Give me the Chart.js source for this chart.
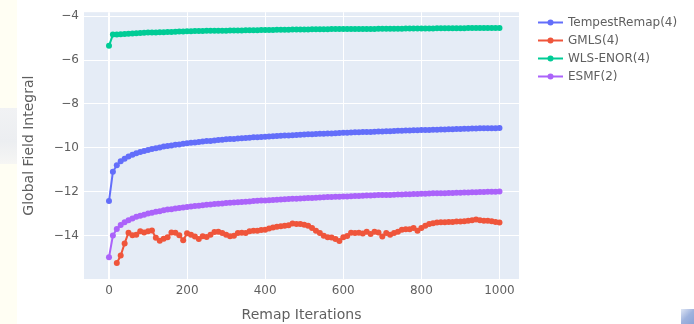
<!DOCTYPE html>
<html>
<head>
<meta charset="utf-8">
<script src="https://cdn.jsdelivr.net/npm/chart.js@4.4.0/dist/chart.umd.min.js"></script>
<style>
    html, body { margin: 0; padding: 0; background: #ffffff; overflow: hidden; }
    #wrap { position: relative; width: 694px; height: 324px; }
    #strip { position: absolute; left: 0; top: 0; width: 17px; height: 324px; background: #fffef3; }
    #blob { position: absolute; left: 0; top: 108px; width: 17px; height: 56px; background: linear-gradient(180deg, #f1f2f4 0%, #eceef1 60%, #f6f6f4 100%); }
    #corner { position: absolute; left: 681px; top: 309px; width: 13px; height: 15px; background: linear-gradient(135deg, #dfe6f4 0%, #9fb3de 50%, #8aa3d6 100%); }
    canvas { position: absolute; left: 0; top: 0; }
</style>
</head>
<body>
<div id="wrap">
    <div id="strip"></div>
    <div id="blob"></div>
    <div id="corner"></div>
    <canvas id="fieldChart" width="694" height="324"></canvas>
</div>
<script>
// Global field integral vs remap iterations

const iterations = [
    0, 10, 20, 30, 40, 50, 60, 70, 80, 90,
    100, 110, 120, 130, 140, 150, 160, 170, 180, 190,
    200, 210, 220, 230, 240, 250, 260, 270, 280, 290,
    300, 310, 320, 330, 340, 350, 360, 370, 380, 390,
    400, 410, 420, 430, 440, 450, 460, 470, 480, 490,
    500, 510, 520, 530, 540, 550, 560, 570, 580, 590,
    600, 610, 620, 630, 640, 650, 660, 670, 680, 690,
    700, 710, 720, 730, 740, 750, 760, 770, 780, 790,
    800, 810, 820, 830, 840, 850, 860, 870, 880, 890,
    900, 910, 920, 930, 940, 950, 960, 970, 980, 990,
    1000
];

const tempestRemap = [
    -12.42, -11.09, -10.79, -10.61, -10.49, -10.39, -10.31, -10.24, -10.19, -10.14,
    -10.09, -10.05, -10.01, -9.98, -9.94, -9.91, -9.89, -9.86, -9.84, -9.81,
    -9.79, -9.77, -9.75, -9.73, -9.71, -9.69, -9.68, -9.66, -9.64, -9.63,
    -9.61, -9.60, -9.59, -9.57, -9.56, -9.55, -9.54, -9.52, -9.51, -9.50,
    -9.49, -9.48, -9.47, -9.46, -9.45, -9.44, -9.43, -9.42, -9.41, -9.40,
    -9.39, -9.38, -9.38, -9.37, -9.36, -9.35, -9.34, -9.34, -9.33, -9.32,
    -9.31, -9.31, -9.30, -9.29, -9.29, -9.28, -9.27, -9.27, -9.26, -9.25,
    -9.25, -9.24, -9.24, -9.23, -9.22, -9.22, -9.21, -9.21, -9.20, -9.20,
    -9.19, -9.19, -9.18, -9.17, -9.17, -9.16, -9.16, -9.15, -9.15, -9.14,
    -9.14, -9.13, -9.13, -9.12, -9.12, -9.11, -9.11, -9.10, -9.10, -9.10,
    -9.09
];

const gmls = [
    null, null, -15.24, -14.90, -14.35, -13.86, -13.98, -13.95, -13.79, -13.85,
    -13.80, -13.76, -14.09, -14.23, -14.14, -14.07, -13.85, -13.86, -13.98, -14.21,
    -13.89, -13.96, -14.03, -14.15, -14.02, -14.06, -13.95, -13.83, -13.82, -13.88,
    -13.95, -14.02, -14.00, -13.88, -13.86, -13.87, -13.80, -13.77, -13.77, -13.74,
    -13.73, -13.67, -13.63, -13.59, -13.57, -13.55, -13.52, -13.44, -13.46, -13.47,
    -13.50, -13.55, -13.65, -13.77, -13.88, -14.00, -14.07, -14.08, -14.15, -14.24,
    -14.07, -14.01, -13.86, -13.88, -13.86, -13.90, -13.82, -13.92, -13.82, -13.85,
    -14.04, -13.88, -13.95, -13.88, -13.82, -13.73, -13.70, -13.70, -13.65, -13.77,
    -13.65, -13.55, -13.47, -13.43, -13.40, -13.38, -13.38, -13.37, -13.37, -13.35,
    -13.35, -13.34, -13.32, -13.29, -13.26, -13.29, -13.32, -13.32, -13.34, -13.37,
    -13.40
];

const wlsEnor = [
    -5.35, -4.84, -4.83, -4.82, -4.81, -4.80, -4.79, -4.78, -4.77, -4.76,
    -4.75, -4.74, -4.74, -4.73, -4.73, -4.72, -4.72, -4.71, -4.70, -4.70,
    -4.69, -4.69, -4.68, -4.68, -4.68, -4.67, -4.67, -4.67, -4.66, -4.66,
    -4.66, -4.65, -4.65, -4.65, -4.65, -4.64, -4.64, -4.64, -4.64, -4.63,
    -4.63, -4.63, -4.63, -4.62, -4.62, -4.62, -4.62, -4.61, -4.61, -4.61,
    -4.61, -4.61, -4.60, -4.60, -4.60, -4.60, -4.60, -4.59, -4.59, -4.59,
    -4.59, -4.59, -4.59, -4.58, -4.58, -4.58, -4.58, -4.58, -4.58, -4.57,
    -4.57, -4.57, -4.57, -4.57, -4.57, -4.57, -4.56, -4.56, -4.56, -4.56,
    -4.56, -4.56, -4.56, -4.56, -4.55, -4.55, -4.55, -4.55, -4.55, -4.55,
    -4.55, -4.55, -4.54, -4.54, -4.54, -4.54, -4.54, -4.54, -4.54, -4.54,
    -4.54
];

const esmf = [
    -14.98, -13.99, -13.69, -13.51, -13.39, -13.29, -13.21, -13.14, -13.09, -13.04,
    -12.99, -12.95, -12.91, -12.88, -12.84, -12.81, -12.79, -12.76, -12.74, -12.71,
    -12.69, -12.67, -12.65, -12.63, -12.61, -12.59, -12.58, -12.56, -12.54, -12.53,
    -12.51, -12.50, -12.49, -12.47, -12.46, -12.45, -12.44, -12.42, -12.41, -12.40,
    -12.39, -12.38, -12.37, -12.36, -12.35, -12.34, -12.33, -12.32, -12.31, -12.30,
    -12.29, -12.28, -12.28, -12.27, -12.26, -12.25, -12.24, -12.24, -12.23, -12.22,
    -12.21, -12.21, -12.20, -12.19, -12.19, -12.18, -12.17, -12.17, -12.16, -12.15,
    -12.15, -12.14, -12.14, -12.13, -12.12, -12.12, -12.11, -12.11, -12.10, -12.10,
    -12.09, -12.09, -12.08, -12.07, -12.07, -12.06, -12.06, -12.05, -12.05, -12.04,
    -12.04, -12.03, -12.03, -12.02, -12.02, -12.01, -12.01, -12.00, -12.00, -12.00,
    -11.99
];

const seriesNames = ['TempestRemap(4)', 'GMLS(4)', 'WLS-ENOR(4)', 'ESMF(2)'];
const seriesColors = ['#636efa', '#ef553b', '#00cc96', '#ab63fa'];

const xTicks = [0, 200, 400, 600, 800, 1000];
const yTicks = [-14, -12, -10, -8, -6, -4];

const TEXT_COLOR = '#5f5f5f';
const FONT = '"DejaVu Sans", Verdana, Arial, sans-serif';

function toPoints(values) {
    return iterations.map(function(x, i) {
        return { x: x, y: values[i] };
    });
}

function minusLabel(v) {
    return v < 0 ? '\u2212' + Math.abs(v) : String(v);
}

// plot background like plotly
const plotBackground = {
    id: 'plotBackground',
    beforeDraw(chart) {
        const { ctx, chartArea } = chart;
        ctx.save();
        ctx.fillStyle = '#e5ecf6';
        ctx.fillRect(chartArea.left, chartArea.top, chartArea.right - chartArea.left, chartArea.bottom - chartArea.top);
        ctx.restore();
    }
};

// legend with line + dot samples on the right
const sideLegend = {
    id: 'sideLegend',
    afterDraw(chart) {
        const ctx = chart.ctx;
        ctx.save();
        chart.data.datasets.forEach(function(ds, i) {
            const y = 22.5 + i * 18;
            ctx.strokeStyle = ds.borderColor;
            ctx.lineWidth = 2;
            ctx.beginPath();
            ctx.moveTo(538, y);
            ctx.lineTo(563, y);
            ctx.stroke();
            ctx.fillStyle = ds.borderColor;
            ctx.beginPath();
            ctx.arc(550.5, y, 3, 0, Math.PI * 2);
            ctx.fill();
            ctx.fillStyle = TEXT_COLOR;
            ctx.font = '12px ' + FONT;
            ctx.textBaseline = 'middle';
            ctx.textAlign = 'left';
            ctx.fillText(ds.label, 568, y + 0.5);
        });
        ctx.restore();
    }
};

const datasets = [tempestRemap, gmls, wlsEnor, esmf].map(function(values, i) {
    return {
        label: seriesNames[i],
        data: toPoints(values),
        borderColor: seriesColors[i],
        backgroundColor: seriesColors[i],
        borderWidth: 2,
        pointRadius: 3,
        pointBorderWidth: 0,
        pointHoverRadius: 3,
        tension: 0,
        spanGaps: false
    };
});

new Chart(document.getElementById('fieldChart'), {
    type: 'line',
    data: { datasets: datasets },
    plugins: [plotBackground, sideLegend],
    options: {
        responsive: false,
        animation: false,
        layout: { padding: { left: 0, right: 175, top: 9, bottom: 0 } },
        plugins: {
            legend: { display: false },
            tooltip: { enabled: false }
        },
        scales: {
            x: {
                type: 'linear',
                min: -64,
                max: 1050,
                afterBuildTicks: function(scale) {
                    scale.ticks = xTicks.map(function(v) { return { value: v }; });
                },
                afterFit: function(scale) { scale.height = 45; },
                grid: {
                    color: '#ffffff',
                    lineWidth: function(c) { return c.tick && c.tick.value === 0 ? 2 : 1; },
                    drawTicks: false
                },
                border: { display: false },
                ticks: {
                    padding: 5,
                    color: TEXT_COLOR,
                    font: { family: FONT, size: 12 },
                    maxRotation: 0,
                    callback: function(v) { return minusLabel(v); }
                },
                title: {
                    display: true,
                    text: 'Remap Iterations',
                    color: TEXT_COLOR,
                    font: { family: FONT, size: 14 },
                    padding: { top: 0, bottom: 0 }
                }
            },
            y: {
                type: 'linear',
                min: -15.97,
                max: -3.82,
                afterBuildTicks: function(scale) {
                    scale.ticks = yTicks.map(function(v) { return { value: v }; });
                },
                afterFit: function(scale) { scale.width = 84; },
                grid: {
                    color: '#ffffff',
                    lineWidth: 1,
                    drawTicks: false
                },
                border: { display: false },
                ticks: {
                    padding: 5,
                    color: TEXT_COLOR,
                    font: { family: FONT, size: 12 },
                    callback: function(v) { return minusLabel(v); }
                },
                title: {
                    display: true,
                    text: 'Global Field Integral',
                    color: TEXT_COLOR,
                    font: { family: FONT, size: 14 },
                    padding: { top: 21, bottom: 0 }
                }
            }
        }
    }
});
</script>
</body>
</html>
